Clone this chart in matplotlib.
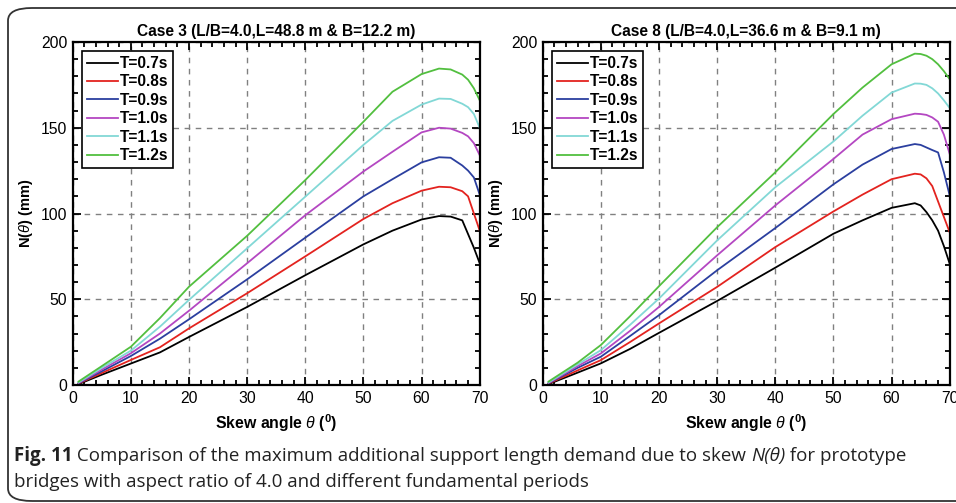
import numpy as np
import matplotlib
matplotlib.use("Agg")
import matplotlib.pyplot as plt
from matplotlib.patches import FancyBboxPatch
from matplotlib.ticker import MultipleLocator

plt.rcParams['font.family'] = ['Liberation Sans', 'DejaVu Sans']
plt.rcParams['mathtext.fontset'] = 'custom'
plt.rcParams['mathtext.rm'] = 'Liberation Sans'
plt.rcParams['mathtext.it'] = 'Liberation Sans:italic'
plt.rcParams['mathtext.bf'] = 'Liberation Sans:bold'

periods = ['T=0.7s', 'T=0.8s', 'T=0.9s', 'T=1.0s', 'T=1.1s', 'T=1.2s']
colors = ['#000000', '#e3231f', '#2b3f9f', '#b447c2', '#82d8d6', '#52bf3f']

# Case 3 (L/B=4.0, L=48.8 m, B=12.2 m)
x3 = [1, 5, 10, 15, 20, 30, 40, 50, 55, 60, 63, 65, 67, 68, 69, 70]
n3_07 = [0.5, 6, 12.5, 19, 28, 45.5, 64, 82, 90, 96.5, 98.5, 98.2, 96, 88, 80, 71]
n3_08 = [0.8, 7, 14.6, 22, 33, 53.5, 75, 96.8, 106, 113.3, 115.6, 115.3, 113, 110, 100, 90]
n3_09 = [1, 8, 16.9, 27, 38.3, 61.6, 85.9, 110, 120, 129.8, 132.8, 132.5, 128, 125, 121, 111]
n3_10 = [1.2, 9, 18.5, 30, 43.3, 71, 99, 124.5, 136, 147.3, 150, 149.5, 147, 145, 141, 134]
n3_11 = [1.5, 10, 20, 34, 49.6, 79.7, 109.8, 140, 154, 163.5, 167, 166.8, 164, 162, 158, 150]
n3_12 = [2, 11, 22.3, 39, 57.3, 87, 119.5, 153.5, 171, 181.3, 184.5, 184, 181, 178, 173, 166]

# Case 8 (L/B=4.0, L=36.6 m, B=9.1 m)
x8 = [1, 6, 10, 15, 20, 30, 40, 50, 55, 60, 64, 65, 66, 67, 68, 69, 70]
n8_07 = [0.5, 7.2, 12.6, 21, 30.4, 49, 68.4, 88.2, 96, 103.3, 106, 104.7, 100.8, 96, 90, 81, 70.7]
n8_08 = [0.8, 8.5, 14.5, 25, 35.9, 57.2, 80.4, 101.2, 111, 120, 123.2, 122.8, 120.5, 116, 107, 98, 89]
n8_09 = [1, 10, 16.5, 28.5, 40.7, 66.9, 91.5, 117, 128.5, 137.6, 140.5, 140, 138.5, 137, 135.6, 124, 110.5]
n8_10 = [1.2, 11, 18.4, 31.5, 45.5, 75.6, 104.7, 131.8, 146, 155, 158.2, 158, 157.5, 156, 153.5, 146, 134.7]
n8_11 = [1.5, 12, 20.3, 35, 50.4, 84.3, 115.3, 142, 157, 170.5, 175.8, 175.7, 175, 173, 170, 166, 161.5]
n8_12 = [2, 13, 23.3, 40, 57.6, 92, 124, 158, 173.4, 187, 193.2, 193, 192, 190, 187, 183, 178.3]

panels = [
    ('Case 3 (L/B=4.0,L=48.8 m & B=12.2 m)', x3, [n3_07, n3_08, n3_09, n3_10, n3_11, n3_12]),
    ('Case 8 (L/B=4.0,L=36.6 m & B=9.1 m)', x8, [n8_07, n8_08, n8_09, n8_10, n8_11, n8_12]),
]

fig = plt.figure(figsize=(9.56, 5.03), dpi=100)
W, H = 956.0, 503.0

# outer rounded frame
frame = FancyBboxPatch((8 / W, 2 / H), 1.2, (501 - 8) / H,
                       boxstyle='round,pad=0,rounding_size=0.025',
                       transform=fig.transFigure, fill=False,
                       edgecolor='#333333', lw=1.3, clip_on=False)
fig.patches.append(frame)

lefts = [72.7, 542.7]
for (title, x, series), left in zip(panels, lefts):
    ax = fig.add_axes([left / W, (503 - 385) / H, 407 / W, 343 / H])
    for y, lab, c in zip(series, periods, colors):
        ax.plot(x, y, color=c, lw=1.3, label=lab)
    ax.set_xlim(0, 70)
    ax.set_ylim(0, 200)
    ax.xaxis.set_major_locator(MultipleLocator(10))
    ax.xaxis.set_minor_locator(MultipleLocator(2))
    ax.yaxis.set_major_locator(MultipleLocator(50))
    ax.yaxis.set_minor_locator(MultipleLocator(10))
    ax.tick_params(which='both', direction='in', top=True, right=True,
                   labelsize=11.3, width=1.3)
    ax.tick_params(which='major', length=6, pad=4)
    ax.tick_params(which='minor', length=3.5)
    ax.grid(True, which='major', ls=(0, (4, 4)), color='#808080', lw=1)
    for s in ax.spines.values():
        s.set_linewidth(1.6)
    ax.set_title(title, fontsize=11.2, fontweight='bold', pad=4)
    ax.set_xlabel(r'Skew angle $\theta$ ($^\mathbf{0}$)', fontsize=11.4,
                  fontweight='bold', labelpad=5)
    ax.set_ylabel(r'N($\theta$) (mm)', fontsize=10.5, fontweight='bold', labelpad=4)
    leg = ax.legend(loc='upper left', fancybox=False, edgecolor='black',
                    framealpha=1, prop={'weight': 'bold', 'size': 11.2},
                    handlelength=2.0, handletextpad=0.15, labelspacing=0.22,
                    borderpad=0.3, borderaxespad=0.6)
    leg.get_frame().set_linewidth(1.2)

# caption
cap_font = ['Open Sans', 'DejaVu Sans']
fig.canvas.draw()
r = fig.canvas.get_renderer()
xpos = 14 / W
ypos = 1 - 456 / H
pieces = [('Fig. 11', 'bold', 'normal'),
          (' Comparison of the maximum additional support length demand due to skew ', 'normal', 'normal'),
          ('N(θ)', 'normal', 'italic'),
          (' for prototype', 'normal', 'normal')]
for txt, wt, st in pieces:
    t = fig.text(xpos, ypos, txt, fontsize=13.5, family=cap_font, weight=wt,
                 style=st, va='center', ha='left', color='#222222')
    bb = t.get_window_extent(renderer=r)
    xpos += bb.width / W
fig.text(14 / W, 1 - 482 / H,
         'bridges with aspect ratio of 4.0 and different fundamental periods',
         fontsize=13.5, family=cap_font, va='center', ha='left', color='#222222')

fig.savefig('out.png', dpi=100)
